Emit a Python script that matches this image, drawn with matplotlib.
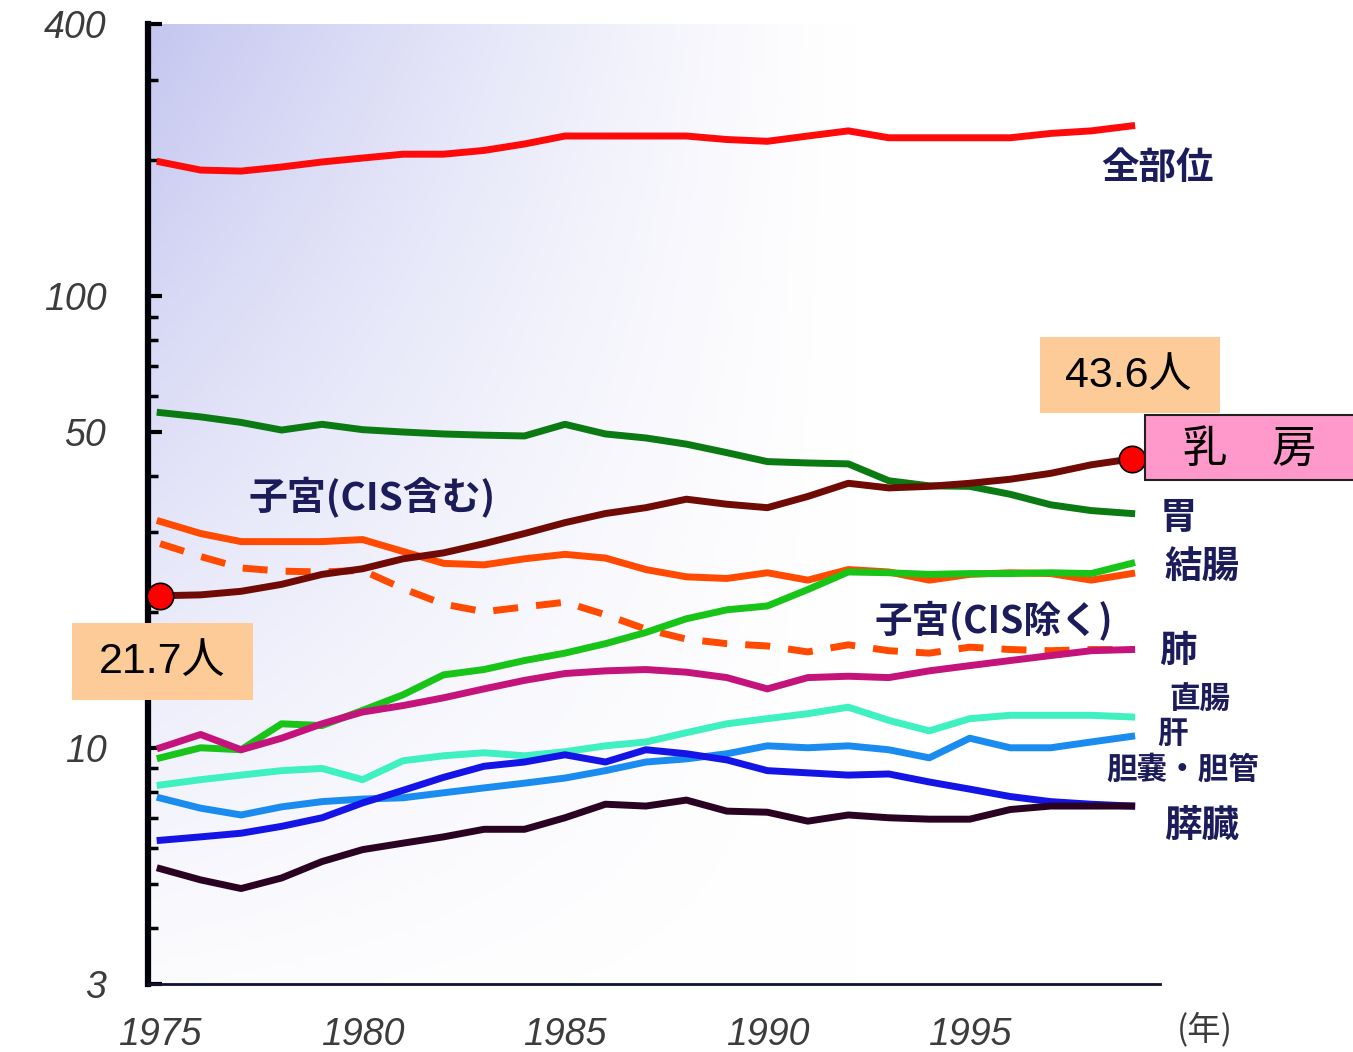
import numpy as np
import matplotlib
matplotlib.use("Agg")
from matplotlib import pyplot as plt
from matplotlib.patches import Rectangle
from matplotlib.ticker import NullFormatter, FixedLocator, LogLocator

# 女性のがん罹患率（人口10万対）, 1975-1999
years = list(range(1975, 2000))
zenbui = [198, 190, 189, 193, 198, 202, 206, 206, 210, 217, 226, 226, 226,
          226, 222, 220, 226, 232, 224, 224, 224, 224, 229, 232, 238]
breast = [21.7, 21.8, 22.2, 23.0, 24.2, 24.9, 26.2, 27.0, 28.3, 29.8, 31.5,
          33.0, 34.0, 35.5, 34.6, 34.0, 36.0, 38.5, 37.6, 37.9, 38.5, 39.3,
          40.5, 42.3, 43.6]
stomach = [55.2, 54.0, 52.5, 50.5, 52.0, 50.6, 50.0, 49.5, 49.2, 49.0, 52.0,
           49.5, 48.5, 47.0, 45.0, 43.0, 42.7, 42.5, 39.0, 38.0, 37.9, 36.4,
           34.5, 33.5, 33.0]
colon = [9.5, 10.0, 9.9, 11.3, 11.2, 12.1, 13.1, 14.5, 14.9, 15.6, 16.2, 17.0,
         18.0, 19.3, 20.2, 20.6, 22.4, 24.5, 24.4, 24.2, 24.3, 24.3, 24.4,
         24.3, 25.6]
uterus_cis = [31.7, 29.8, 28.6, 28.6, 28.6, 28.9, 27.2, 25.6, 25.4, 26.2,
              26.8, 26.3, 24.8, 23.9, 23.7, 24.4, 23.5, 24.8, 24.5, 23.5,
              24.2, 24.4, 24.3, 23.5, 24.3]
uterus_nocis = [28.3, 26.5, 25.0, 24.6, 24.5, 24.7, 22.5, 20.8, 20.0, 20.5,
                21.0, 19.7, 18.3, 17.4, 17.0, 16.8, 16.3, 16.9, 16.4, 16.2,
                16.7, 16.5, 16.4, 16.5, 16.5]
lung = [10.0, 10.7, 9.9, 10.5, 11.3, 12.0, 12.4, 12.9, 13.5, 14.1, 14.6, 14.8,
        14.9, 14.7, 14.3, 13.5, 14.3, 14.4, 14.3, 14.8, 15.2, 15.6, 16.0,
        16.4, 16.5]
rectum = [8.27, 8.5, 8.7, 8.9, 9.0, 8.5, 9.36, 9.6, 9.75, 9.6, 9.8, 10.1,
          10.3, 10.8, 11.3, 11.6, 11.9, 12.3, 11.5, 10.9, 11.6, 11.8, 11.8,
          11.8, 11.7]
liver = [7.74, 7.35, 7.1, 7.4, 7.6, 7.7, 7.75, 7.95, 8.15, 8.35, 8.57, 8.9,
         9.3, 9.45, 9.7, 10.1, 10.0, 10.1, 9.9, 9.5, 10.5, 10.0, 10.0, 10.3,
         10.6]
gallbladder = [6.24, 6.35, 6.47, 6.7, 7.0, 7.55, 8.05, 8.6, 9.1, 9.3, 9.65,
               9.3, 9.9, 9.7, 9.4, 8.9, 8.8, 8.7, 8.75, 8.4, 8.1, 7.8, 7.6,
               7.5, 7.43]
pancreas = [5.4, 5.1, 4.88, 5.15, 5.6, 5.95, 6.15, 6.35, 6.6, 6.6, 7.0, 7.5,
            7.43, 7.66, 7.24, 7.2, 6.88, 7.1, 7.0, 6.95, 6.95, 7.3, 7.43,
            7.43, 7.43]

yticks = [3, 10, 50, 100, 400]
xticks = [1975, 1980, 1985, 1990, 1995]

W, H = 1353, 1052
def fx(x):
    return x / W
def fy(y):
    return 1 - y / H

jp = ["Noto Sans CJK JP", "DejaVu Sans"]
num = ["Liberation Sans", "Noto Sans CJK JP"]

fig = plt.figure(figsize=(W / 100, H / 100), dpi=100)
ax = fig.add_axes([fx(148), fy(984), fx(1160) - fx(148), fy(24) - fy(984)])

# lavender gradient background, strongest at top-left, fading right and down
gx, gy = np.meshgrid(np.linspace(0, 1, 300), np.linspace(0, 1, 300))
t = np.clip(1 - gx / 0.7, 0, 1) ** 1.3 * np.clip(1 - gy / 1.1, 0, 1) ** 1.2
lav = np.array([196, 198, 240]) / 255.0
img = np.ones((300, 300, 3)) * (1 - t[..., None]) + lav * t[..., None]
ax.imshow(img, extent=[0, 1, 0, 1], transform=ax.transAxes, aspect="auto",
          zorder=0, origin="upper")

lw = 5
ax.plot(years, zenbui, color="#ff0a0a", lw=lw, zorder=3)
ax.plot(years, stomach, color="#0b7a12", lw=lw, zorder=3)
ax.plot(years, uterus_cis, color="#ff4a00", lw=lw, zorder=3)
ax.plot(years, uterus_nocis, color="#ff4a00", lw=lw, ls=(0, (3.6, 2.6)), zorder=3)
ax.plot(years, colon, color="#19c419", lw=lw, zorder=3)
ax.plot(years, lung, color="#c4137a", lw=lw, zorder=3)
ax.plot(years, rectum, color="#3ff0c0", lw=lw, zorder=3)
ax.plot(years, liver, color="#1a8cf0", lw=lw, zorder=3)
ax.plot(years, gallbladder, color="#1414e6", lw=lw, zorder=3)
ax.plot(years, pancreas, color="#2a0322", lw=lw, zorder=3)
ax.plot(years, breast, color="#700a05", lw=lw, zorder=4)

# highlight points for 乳房
ax.plot([years[0], years[-1]], [breast[0], breast[-1]], "o", ms=19,
        mfc="#ff0000", mec="black", mew=1.2, zorder=6, clip_on=False)

ax.set_yscale("log")
ax.set_ylim(3, 400)
ax.set_xlim(1974.7, 1999.7)
ax.yaxis.set_major_locator(FixedLocator(yticks))
ax.set_yticklabels([str(v) for v in yticks])
ax.yaxis.set_minor_locator(LogLocator(base=10, subs=np.arange(2, 10)))
ax.yaxis.set_minor_formatter(NullFormatter())
ax.set_xticks(xticks)
ax.set_xticklabels([str(v) for v in xticks])

for s in ["top", "right"]:
    ax.spines[s].set_visible(False)
ax.spines["left"].set_linewidth(4.5)
ax.spines["left"].set_color("#000008")
ax.spines["bottom"].set_linewidth(2)
ax.spines["bottom"].set_color("#101030")

ax.tick_params(axis="y", which="major", direction="in", length=10, width=3,
               pad=30, labelsize=27, labelcolor="#3c3c3c")
ax.tick_params(axis="y", which="minor", direction="in", length=7, width=2.5)
ax.tick_params(axis="x", which="both", length=0, pad=24, labelsize=27,
               labelcolor="#3c3c3c")
for lab in ax.get_yticklabels() + ax.get_xticklabels():
    lab.set_fontstyle("italic")
    lab.set_family("Liberation Sans")

fig.text(fx(1205), fy(1030), "(年)", family=jp, fontsize=24, color="#3c3c3c",
         ha="center", va="center")

# series labels
navy = "#1c1c5a"
labels = [
    ("全部位", 1157, 168, 27),
    ("子宮(CIS含む)", 372, 498, 28),
    ("胃", 1178, 518, 27),
    ("結腸", 1202, 567, 27),
    ("子宮(CIS除く)", 994, 620, 27),
    ("肺", 1178, 650, 27),
    ("直腸", 1200, 700, 22),
    ("肝", 1172, 734, 22),
    ("胆嚢・胆管", 1183, 770, 22),
    ("膵臓", 1202, 825, 27),
]
for txt, x, y, fs in labels:
    fig.text(fx(x), fy(y), txt, family=jp, fontsize=fs, fontweight="bold",
             color=navy, ha="center", va="center", zorder=7)

# value boxes
fig.patches.append(Rectangle((fx(1040), fy(413)), fx(180), 76 / H,
                             transform=fig.transFigure, fc="#fccb98",
                             ec="none", zorder=5))
fig.text(fx(1128), fy(376), f"{breast[-1]}人", family=num, fontsize=31,
         ha="center", va="center", zorder=8)
fig.patches.append(Rectangle((fx(72), fy(700)), fx(181), 77 / H,
                             transform=fig.transFigure, fc="#fccb98",
                             ec="none", zorder=5))
fig.text(fx(162), fy(662), f"{breast[0]}人", family=num, fontsize=31,
         ha="center", va="center", zorder=8)
fig.patches.append(Rectangle((fx(1145), fy(480)), fx(215), 65 / H,
                             transform=fig.transFigure, fc="#ff99cc",
                             ec="#202020", lw=1.5, zorder=5))
fig.text(fx(1250), fy(449), "乳　房", family=jp, fontsize=32,
         ha="center", va="center", zorder=8)

fig.savefig("out.png", dpi=100)
